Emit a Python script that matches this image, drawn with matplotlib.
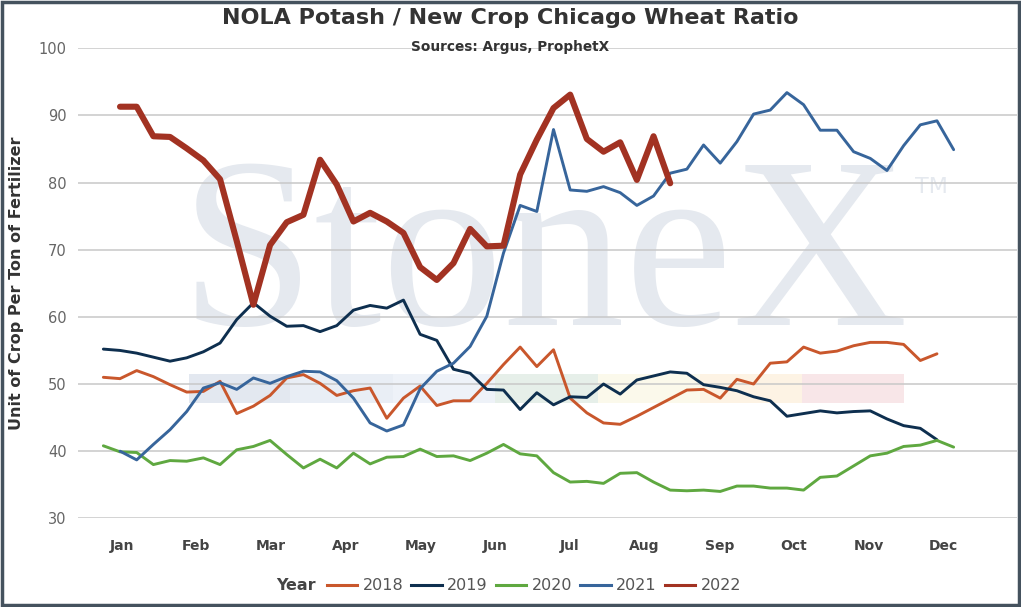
import numpy as np
import matplotlib
matplotlib.use('Agg')
import matplotlib.pyplot as plt
from matplotlib.patches import Rectangle
from matplotlib.lines import Line2D

plt.rcParams['font.family'] = ['DejaVu Sans']

months = ['Jan', 'Feb', 'Mar', 'Apr', 'May', 'Jun', 'Jul', 'Aug', 'Sep', 'Oct', 'Nov', 'Dec']
years = ['2018', '2019', '2020', '2021', '2022']

# weekly ratio values, week numbers start at 1 (2021/2022 start at week 2)
y2018 = [51.0, 50.8, 52.0, 51.1, 49.9, 48.8, 48.9, 50.4, 45.6, 46.7, 48.3, 50.9, 51.4, 50.1,
         48.3, 49.0, 49.4, 44.9, 47.9, 49.7, 46.8, 47.5, 47.5, 50.1, 52.9, 55.5, 52.6, 55.1,
         47.9, 45.7, 44.2, 44.0, 45.2, 46.5, 47.8, 49.1, 49.2, 47.9, 50.7, 50.0, 53.1, 53.3,
         55.5, 54.6, 54.9, 55.7, 56.2, 56.2, 55.9, 53.5, 54.5]
y2019 = [55.2, 55.0, 54.6, 54.0, 53.4, 53.9, 54.8, 56.1, 59.6, 62.1, 60.1, 58.6, 58.7, 57.8,
         58.7, 61.0, 61.7, 61.3, 62.5, 57.4, 56.5, 52.2, 51.6, 49.2, 49.1, 46.2, 48.7, 46.9,
         48.1, 48.0, 50.0, 48.5, 50.6, 51.2, 51.8, 51.6, 49.9, 49.5, 49.0, 48.1, 47.5, 45.2,
         45.6, 46.0, 45.7, 45.9, 46.0, 44.8, 43.8, 43.4, 41.7]
y2020 = [40.8, 39.9, 39.8, 38.0, 38.6, 38.5, 39.0, 38.0, 40.2, 40.7, 41.6, 39.5, 37.5, 38.8,
         37.5, 39.7, 38.1, 39.1, 39.2, 40.3, 39.2, 39.3, 38.6, 39.7, 41.0, 39.6, 39.3, 36.8,
         35.4, 35.5, 35.2, 36.7, 36.8, 35.4, 34.2, 34.1, 34.2, 34.0, 34.8, 34.8, 34.5, 34.5,
         34.2, 36.1, 36.3, 37.8, 39.3, 39.7, 40.7, 40.9, 41.6, 40.6]
y2021 = [40.0, 38.7, 41.0, 43.2, 45.9, 49.4, 50.2, 49.2, 50.9, 50.1, 51.1, 51.9, 51.8,
         50.5, 47.9, 44.2, 43.0, 43.9, 49.3, 51.9, 53.1, 55.6, 60.1, 69.5, 76.6, 75.7, 87.9,
         78.9, 78.7, 79.4, 78.5, 76.6, 78.0, 81.4, 82.0, 85.6, 82.9, 86.1, 90.2, 90.8, 93.4,
         91.6, 87.8, 87.8, 84.6, 83.6, 81.8, 85.5, 88.6, 89.2, 84.9]
y2022 = [91.3, 91.3, 86.9, 86.8, 85.1, 83.3, 80.5, 71.3, 61.8, 70.7, 74.1, 75.2, 83.4,
         79.7, 74.2, 75.5, 74.2, 72.5, 67.4, 65.5, 68.0, 73.1, 70.5, 70.6, 81.2, 86.4, 91.1,
         93.1, 86.5, 84.6, 86.0, 80.4, 86.9, 79.9]
series = [y2018, y2019, y2020, y2021, y2022]
first_week = [1, 1, 1, 2, 2]

colors = ['#C9572C', '#0E2F4F', '#5FA840', '#37659B', '#A23222']
widths = [2.1, 2.1, 2.1, 2.1, 4.4]

W, H = 1021, 607
fig = plt.figure(figsize=(W / 100, H / 100), dpi=100)
ax = fig.add_axes([78 / W, 1 - 518.3 / H, (1017 - 78) / W, 470 / H])
ax.set_facecolor('none')

# StoneX watermark behind the axes
fig.text(180 / W, 1 - 325 / H, 'StoneX', family='Liberation Serif', fontsize=175,
         color='#e5e9ef', ha='left', va='baseline', zorder=-2)
fig.text(915 / W, 1 - 187 / H, 'TM', fontsize=16, color='#e5e9ef', ha='left',
         va='center', zorder=-2)
band_x = [189, 290, 393, 495, 598, 700, 802, 904]
band_c = ['#e3e8f0', '#e9eef5', '#eef2f8', '#e6efe9', '#fbf9eb', '#fdf3e4', '#f8e6e8']
for i, c in enumerate(band_c):
    fig.patches.append(Rectangle((band_x[i] / W, 1 - 403 / H), (band_x[i + 1] - band_x[i]) / W,
                                 29 / H, transform=fig.transFigure, facecolor=c,
                                 edgecolor='none', zorder=-3))

for yr, vals, fw, c, lw in zip(years, series, first_week, colors, widths):
    weeks = np.arange(fw, fw + len(vals))
    ax.plot(weeks, vals, color=c, lw=lw, solid_capstyle='round', solid_joinstyle='round',
            zorder=3)

ax.set_xlim(-0.52, 55.8)
ax.set_ylim(30, 100)
ax.set_yticks(range(30, 101, 10))
ax.grid(axis='y', color='#c8c8c8', lw=1.1)
ax.set_axisbelow(True)
for s in ax.spines.values():
    s.set_visible(False)
ax.tick_params(axis='y', length=0, pad=8, labelsize=10.5, labelcolor='#666666')
ax.set_xticks(2.1 + 4.48 * np.arange(12))
ax.set_xticklabels(months, fontweight='bold', color='#444444', fontsize=10)
ax.tick_params(axis='x', length=0, pad=15)
ax.set_ylabel('Unit of Crop Per Ton of Fertilizer', fontsize=11.5, fontweight='bold',
              color='#333333')
ax.yaxis.set_label_coords(-54 / 939, 0.5)

fig.text(0.5, 1 - 18 / H, 'NOLA Potash / New Crop Chicago Wheat Ratio', ha='center',
         va='center', fontsize=16, fontweight='bold', color='#333333')
fig.text(0.5, 1 - 47 / H, 'Sources: Argus, ProphetX', ha='center', va='center',
         fontsize=9.8, fontweight='bold', color='#333333')

handles = [Line2D([], [], color=c, lw=2.2) for c in colors]
leg = fig.legend(handles, years, loc='center', bbox_to_anchor=(534 / W, 1 - 586 / H),
                 ncol=5, frameon=False, fontsize=11.5, handlelength=1.9, handletextpad=0.35,
                 columnspacing=0.5, labelcolor='#555555')
fig.text(316 / W, 1 - 586 / H, 'Year', ha='right', va='center', fontsize=11.5,
         fontweight='bold', color='#444444')

fig.patches.append(Rectangle((0.0015, 0.0025), 0.997, 0.995, transform=fig.transFigure,
                             fill=False, edgecolor='#45525e', lw=2.5, zorder=10))

fig.savefig('out.png', dpi=100)
